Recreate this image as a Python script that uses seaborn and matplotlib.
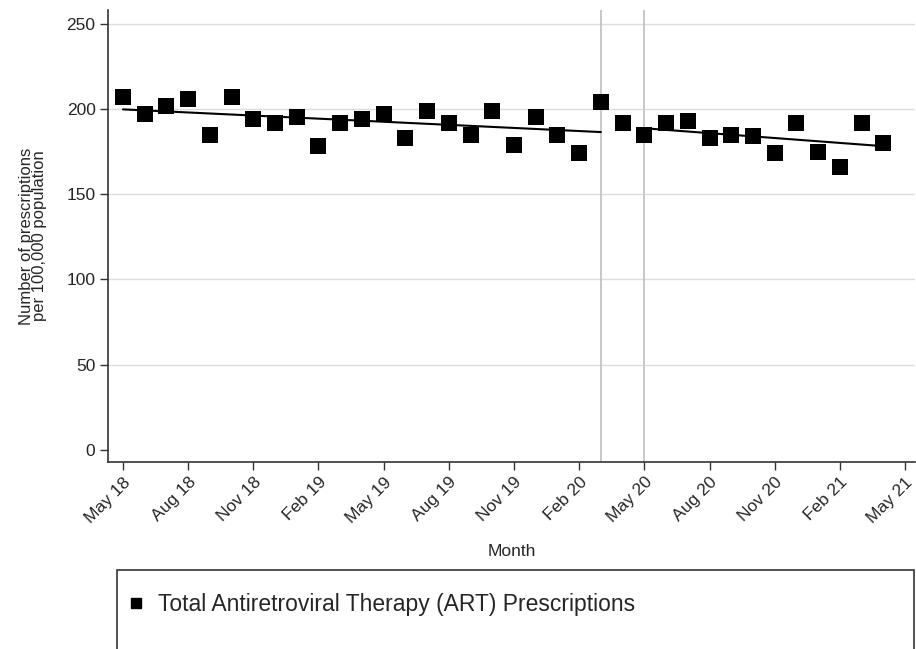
import numpy as np
import pandas as pd
import matplotlib
matplotlib.use("Agg")
import matplotlib.pyplot as plt
import matplotlib.patches as mpatches
from matplotlib.lines import Line2D
import seaborn as sns

months = ["May 18","Jun 18","Jul 18","Aug 18","Sep 18","Oct 18","Nov 18","Dec 18",
          "Jan 19","Feb 19","Mar 19","Apr 19","May 19","Jun 19","Jul 19","Aug 19",
          "Sep 19","Oct 19","Nov 19","Dec 19","Jan 20","Feb 20","Mar 20","Apr 20",
          "May 20","Jun 20","Jul 20","Aug 20","Sep 20","Oct 20","Nov 20","Dec 20",
          "Jan 21","Feb 21","Mar 21","Apr 21"]
prescriptions = [207, 197, 202, 206, 185, 207, 194, 192, 195, 178, 192, 194,
                 197, 183, 199, 192, 185, 199, 179, 195, 185, 174, 204, 192,
                 185, 192, 193, 183, 185, 184, 174, 192, 175, 166, 192, 180]
tick_labels = ["May 18","Aug 18","Nov 18","Feb 19","May 19","Aug 19","Nov 19",
               "Feb 20","May 20","Aug 20","Nov 20","Feb 21","May 21"]
pre_period = (0, 22)    # May 18 - Mar 20
post_period = (24, 35)  # May 20 - Apr 21
vlines = [22, 24]       # Mar 20, May 20

df = pd.DataFrame({"idx": np.arange(len(months)), "val": prescriptions})

sns.set_style("white")
plt.rcParams["font.family"] = ["Liberation Sans", "DejaVu Sans"]

fig = plt.figure(figsize=(9.16, 6.49), dpi=100)
ax = fig.add_axes([108/916, 1-462/649, 807/916, 452/649])

for y in [50, 100, 150, 200, 250]:
    ax.axhline(y, color="#dcdcdc", lw=1, zorder=0)
for v in vlines:
    ax.axvline(v, color="#c4c4c4", lw=1.3, zorder=1)

# trend lines
for a, b in [pre_period, post_period]:
    seg = df[(df.idx >= a) & (df.idx <= b)]
    k, c = np.polyfit(seg.idx, seg.val, 1)
    tx = np.array([a, b])
    ax.plot(tx, k*tx + c, color="black", lw=1.5, zorder=2)

sns.scatterplot(data=df, x="idx", y="val", marker="s", color="black",
                s=135, edgecolor="black", linewidth=0, ax=ax, zorder=3)

ax.set_xlim(-0.69, 36.46)
ax.set_ylim(-7, 258)
ax.set_yticks([0, 50, 100, 150, 200, 250])
ax.set_xticks(np.arange(0, 37, 3))
ax.set_xticklabels(tick_labels, rotation=45, ha="right", rotation_mode="anchor",
                   fontsize=12.5)
ax.tick_params(axis="y", labelsize=12.5)
ax.tick_params(axis="both", direction="out", length=6, width=1, color="#333333",
               bottom=True, left=True, pad=3)
for s in ["top", "right"]:
    ax.spines[s].set_visible(False)
for s in ["left", "bottom"]:
    ax.spines[s].set_color("#333333")
    ax.spines[s].set_linewidth(1.2)
ax.set_xlabel("Month", fontsize=12.5, labelpad=13)
ax.set_ylabel("Number of prescriptions\nper 100,000 population", fontsize=12,
              labelpad=14, linespacing=0.85)

# legend box
rect = mpatches.Rectangle((117/916, -0.02), 797/916, (649-570)/649 + 0.02,
                          transform=fig.transFigure, fill=False,
                          edgecolor="#333333", lw=1.2)
fig.add_artist(rect)
handle = Line2D([], [], marker="s", color="black", linestyle="none", markersize=7)
fig.legend([handle], ["Total Antiretroviral Therapy (ART) Prescriptions"],
           loc="center left", bbox_to_anchor=(104/916, 1-605/649), frameon=False,
           fontsize=16.5, handletextpad=0.45, handlelength=1.0)

fig.savefig("out.png", dpi=100)
